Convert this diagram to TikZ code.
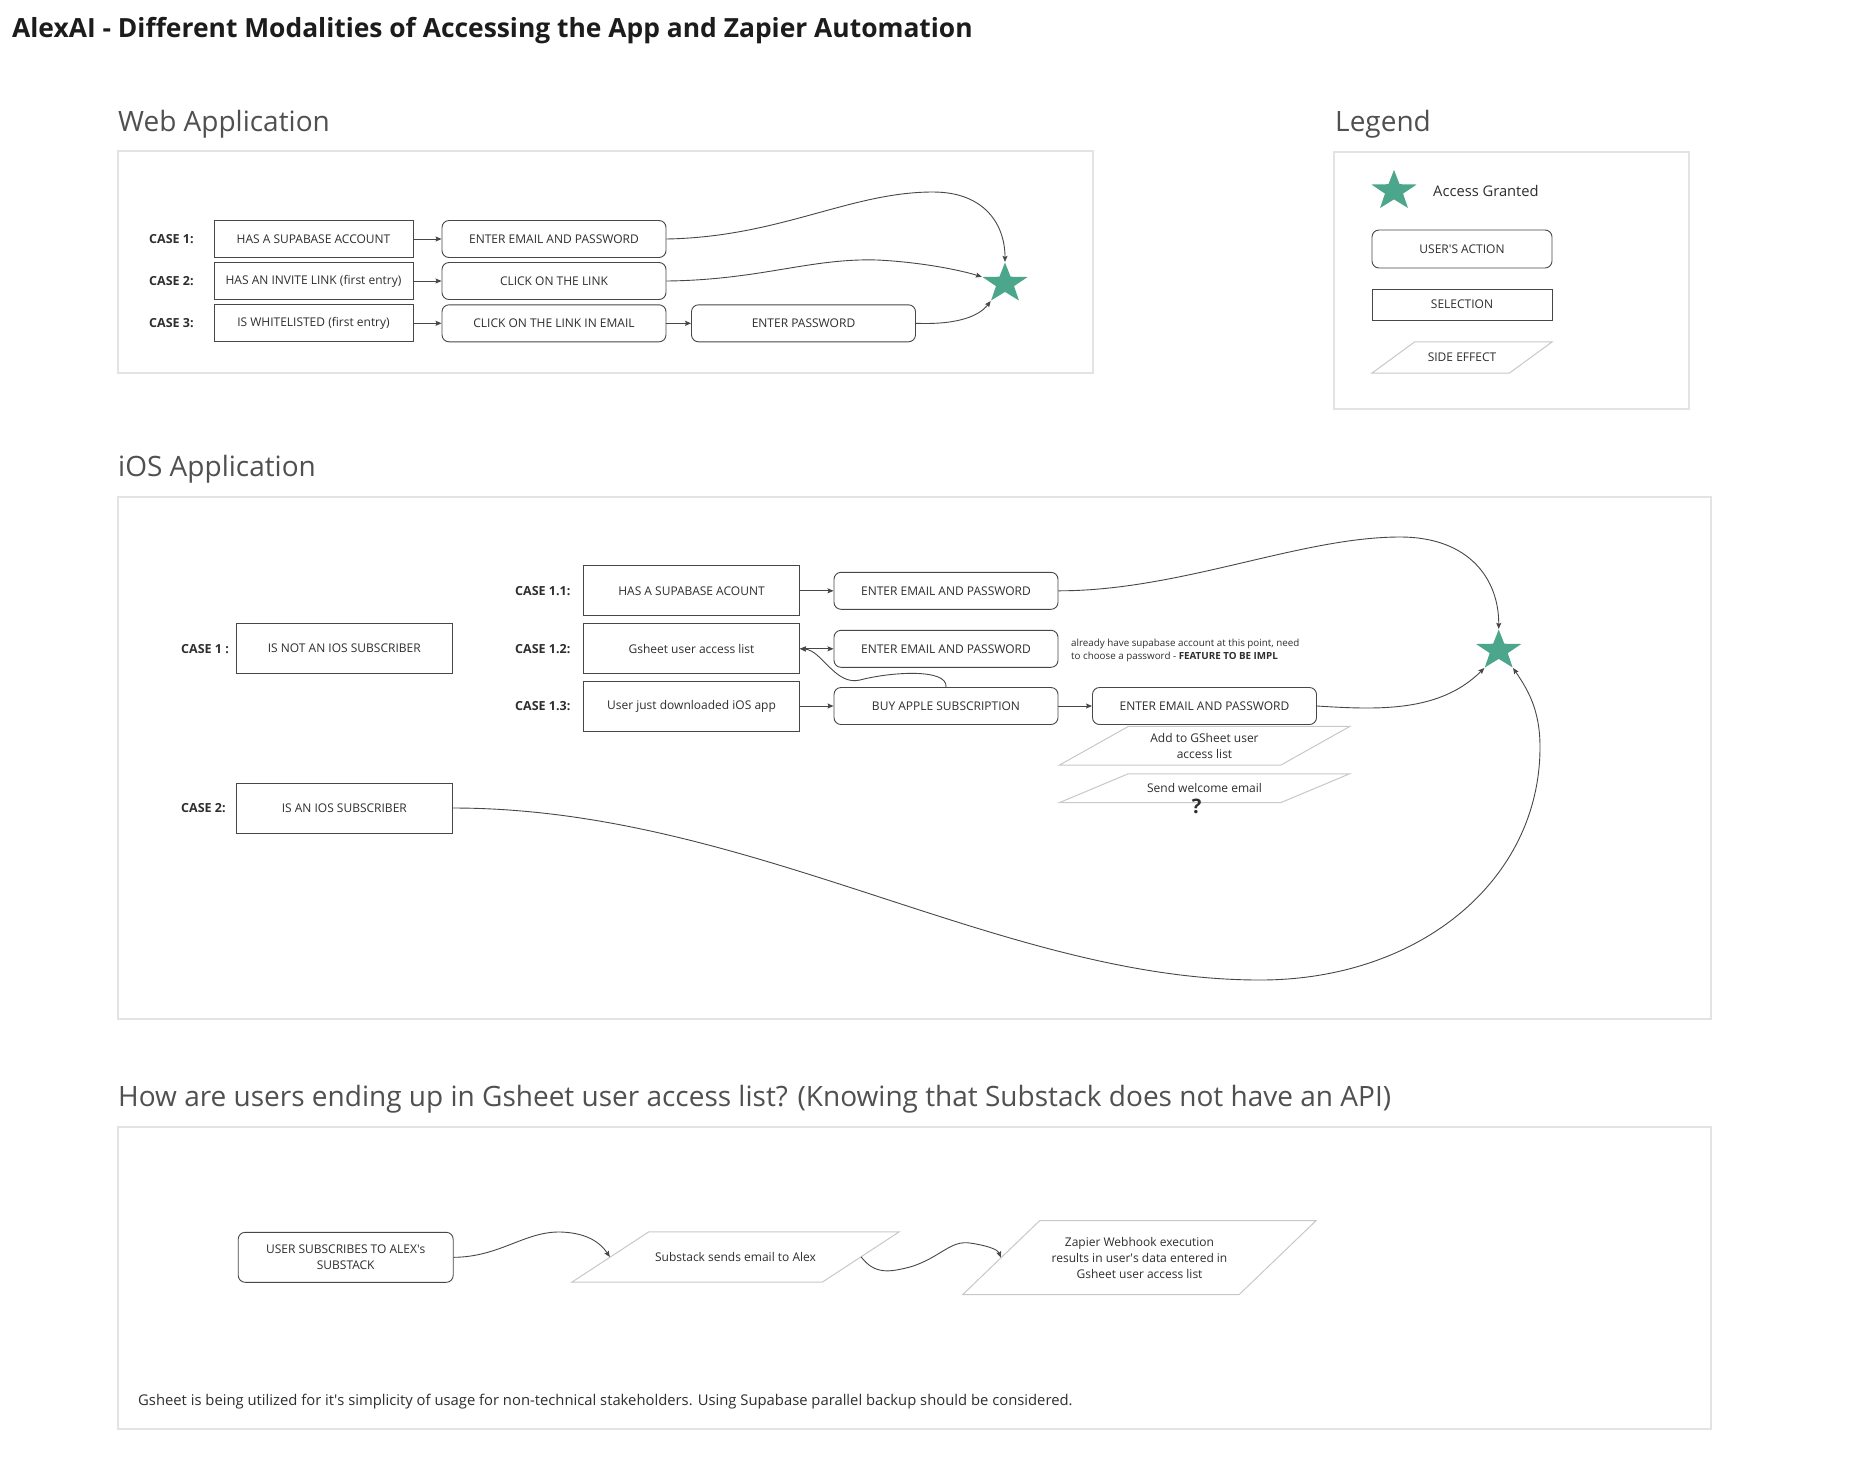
\documentclass[tikz,border=0pt]{standalone}
\usepackage{fontspec}
\setmainfont{Open Sans}
\usetikzlibrary{shapes.geometric,arrows.meta,calc}
\definecolor{lineC}{HTML}{474747}
\definecolor{frameC}{HTML}{E3E3E3}
\definecolor{sideC}{HTML}{C8C8C8}
\definecolor{textC}{HTML}{2E2E2E}
\definecolor{headC}{HTML}{505050}
\definecolor{titleC}{HTML}{1C1C1C}
\definecolor{starC}{HTML}{4CA68B}
\newcommand\myfs[2]{\fontsize{#1}{#2}\selectfont}
\newcommand\sidebox[2]{\draw[sideline] ([xshift=#2]#1.north west) -- (#1.north east) -- ([xshift=-#2]#1.south east) -- (#1.south west) -- cycle;}
\begin{document}
\begin{tikzpicture}[x=1pt,y=-1pt,
  sel/.style={draw=lineC, line width=0.9pt, inner sep=0pt, text=textC, font=\myfs{12}{15}, align=center},
  act/.style={sel, rounded corners=7pt},
  side/.style={inner sep=0pt, text=textC, font=\myfs{12}{15.6}, align=center},
  sideline/.style={draw=sideC, line width=1pt},
  frame/.style={draw=frameC, line width=2pt},
  caselbl/.style={anchor=west, inner sep=0pt, font=\myfs{12.5}{15}\bfseries, text=textC},
  head/.style={anchor=base west, inner sep=0pt, font=\myfs{28}{32}, text=headC},
  conn/.style={draw=lineC, line width=0.9pt, -{Stealth[length=6pt,width=5pt,inset=1pt]}},
  conn2/.style={draw=lineC, line width=0.9pt, {Stealth[length=6pt,width=5pt,inset=1pt]}-{Stealth[length=6pt,width=5pt,inset=1pt]}},
  accstar/.style={star, star points=5, star point ratio=2.5, minimum size=42pt, inner sep=0pt, fill=starC, draw=none, transform shape},
]
\fill[white] (0,0) rectangle (1852,1460);
\useasboundingbox (0,0) rectangle (1852,1460);

% title
\node[anchor=base west, inner sep=0pt, font=\myfs{26.4}{30}\bfseries, text=titleC] (title) at (12,37.3) {AlexAI - Different Modalities of Accessing the App and Zapier Automation};

% ---------------- Web application
\node[head] (wh) at (118,131) {Web Application};
\draw[frame] (118,151) rectangle (1093,373);
\node[caselbl] (c1) at (149,239) {CASE 1:};
\node[caselbl] (c2) at (149,281) {CASE 2:};
\node[caselbl] (c3) at (149,323.3) {CASE 3:};
\node[sel, minimum width=199pt, minimum height=37pt] (w1s) at (313.5,239) {HAS A SUPABASE ACCOUNT};
\node[sel, minimum width=199pt, minimum height=37pt] (w2s) at (313.5,281) {HAS AN INVITE LINK (first entry)};
\node[sel, minimum width=199pt, minimum height=37pt] (w3s) at (313.5,323.3) {IS WHITELISTED (first entry)};
\node[act, minimum width=224pt, minimum height=37pt] (w1a) at (554,239) {ENTER EMAIL AND PASSWORD};
\node[act, minimum width=224pt, minimum height=37pt] (w2a) at (554,281) {CLICK ON THE LINK};
\node[act, minimum width=224pt, minimum height=37pt] (w3a) at (554,323.3) {CLICK ON THE LINK IN EMAIL};
\node[act, minimum width=224pt, minimum height=37pt] (w3b) at (803.5,323.3) {ENTER PASSWORD};
\begin{scope}[shift={(1005,283.5)}, xscale=1.13]
  \node[accstar] (ws) at (0,0) {};
\end{scope}
\draw[conn] (w1s) -- (w1a);
\draw[conn] (w2s) -- (w2a);
\draw[conn] (w3s) -- (w3a);
\draw[conn] (w3a) -- (w3b);
\draw[conn] (w1a.east) .. controls (780,237) and (850,192) .. (933,192) .. controls (985,192) and (1005,225) .. (ws.outer point 1);
\draw[conn] (w2a.east) .. controls (760,280) and (810,258) .. (877,260) .. controls (920,262) and (960,270) .. (ws.outer point 2);
\draw[conn] (w3b.east) .. controls (960,325) and (980,315) .. (ws.outer point 3);

% ---------------- Legend
\node[head] (lh) at (1335,131) {Legend};
\draw[frame] (1334,152) rectangle (1689,409);
\begin{scope}[shift={(1394,191)}, xscale=1.13]
  \node[accstar] (ls) at (0,0) {};
\end{scope}
\node[anchor=west, inner sep=0pt, font=\myfs{14.7}{17}, text=textC] (lag) at (1433,190.5) {Access Granted};
\node[act, minimum width=180pt, minimum height=38pt] (lua) at (1462,249) {USER\textquotesingle S ACTION};
\node[sel, minimum width=180pt, minimum height=31pt] (lsel) at (1462,304.5) {SELECTION};
\node[side, minimum width=180pt, minimum height=31pt] (lse) at (1462,357.5) {SIDE EFFECT};
\sidebox{lse}{43pt}

% ---------------- iOS application
\node[head] (ih) at (118,476.5) {iOS Application};
\draw[frame] (118,497) rectangle (1711,1019);
\node[caselbl] (ci1) at (181,648.6) {CASE 1 :};
\node[caselbl] (ci2) at (181,808) {CASE 2:};
\node[caselbl] (c11) at (515,590.8) {CASE 1.1:};
\node[caselbl] (c12) at (515,648.8) {CASE 1.2:};
\node[caselbl] (c13) at (515,706) {CASE 1.3:};
\node[sel, minimum width=216pt, minimum height=50pt] (i1) at (344.3,648.6) {IS NOT AN IOS SUBSCRIBER};
\node[sel, minimum width=216pt, minimum height=50pt] (i2) at (344.3,808) {IS AN IOS SUBSCRIBER};
\node[sel, minimum width=216pt, minimum height=50pt] (b11) at (691.5,590.8) {HAS A SUPABASE ACOUNT};
\node[sel, minimum width=216pt, minimum height=50pt] (b12) at (691.5,648.8) {Gsheet user access list};
\node[sel, minimum width=216pt, minimum height=50pt] (b13) at (691.5,706) {User just downloaded iOS app};
\node[act, minimum width=224pt, minimum height=37pt] (e1) at (946,590.8) {ENTER EMAIL AND PASSWORD};
\node[act, minimum width=224pt, minimum height=37pt] (e2) at (946,648.8) {ENTER EMAIL AND PASSWORD};
\node[act, minimum width=224pt, minimum height=37pt] (buy) at (946,706) {BUY APPLE SUBSCRIPTION};
\node[act, minimum width=224pt, minimum height=37pt] (e3) at (1204.5,706) {ENTER EMAIL AND PASSWORD};
\node[anchor=west, inner sep=0pt, font=\myfs{9.8}{13.3}, text=textC, align=left] (note) at (1071,650.7) {already have supabase account at this point, need\\to choose a password - \textbf{FEATURE TO BE IMPL}};
\node[side, minimum width=290pt, minimum height=38.3pt] (sa) at (1204.5,745.8) {Add to GSheet user\\access list};
\sidebox{sa}{69pt}
\node[side, minimum width=290pt, minimum height=28.5pt] (sw) at (1204.5,788.2) {Send welcome email};
\sidebox{sw}{69pt}
\node[inner sep=0pt, font=\myfs{20}{20}\bfseries, text=textC] (q) at (1196.7,806) {?};
\begin{scope}[shift={(1498.7,650.5)}, xscale=1.13]
  \node[accstar] (is) at (0,0) {};
\end{scope}
\draw[conn] (b11) -- (e1);
\draw[conn2] (b12) -- (e2);
\draw[conn] (b13.east) -- (buy.west);
\draw[conn] (buy) -- (e3);
\draw[conn] (buy.north) .. controls (948,668) and (890,672) .. (860,680) .. controls (835,686) and (822,650) .. (b12.east);
\draw[conn] (e1.east) .. controls (1180,591) and (1300,537) .. (1400,537) .. controls (1470,537) and (1499,580) .. (is.outer point 1);
\draw[conn] (e3.east) .. controls (1380,710) and (1440,712) .. (is.outer point 3);
\draw[conn] (i2.east) .. controls (750,808) and (1000,980) .. (1260,980) .. controls (1420,980) and (1540,880) .. (1540,747) .. controls (1540,710) and (1528,690) .. (is.outer point 4);

% ---------------- Gsheet
\node[head] (gh) at (118,1106) {How are users ending up in Gsheet user access list? (Knowing that Substack does not have an API)};
\draw[frame] (118,1126.7) rectangle (1711,1429);
\node[act, minimum width=215pt, minimum height=50pt, font=\myfs{12}{16}] (u) at (345.7,1257.3) {USER SUBSCRIBES TO ALEX\textquotesingle s\\SUBSTACK};
\node[side, minimum width=327pt, minimum height=50pt] (p1) at (735.5,1257) {Substack sends email to Alex};
\sidebox{p1}{77pt}
\node[side, minimum width=353pt, minimum height=73.6pt, font=\myfs{12}{16}] (p2) at (1139.5,1257.5) {Zapier Webhook execution\\results in user\textquotesingle s data entered in\\Gsheet user access list};
\sidebox{p2}{77pt}
\coordinate (p1in) at ([xshift=38pt]p1.west);
\coordinate (p1out) at ([xshift=-38pt]p1.east);
\coordinate (p2in) at ([xshift=38pt]p2.west);
\draw[conn] (u.east) .. controls (500,1257) and (525,1231) .. (561,1232) .. controls (590,1233) and (602,1245) .. (p1in);
\draw[conn] (p1out) .. controls (875,1275) and (890,1272) .. (910,1267) .. controls (940,1258) and (950,1240) .. (970,1243) .. controls (990,1246) and (998,1250) .. (p2in);
\node[anchor=base west, inner sep=0pt, font=\myfs{14.8}{17}, text=textC] (foot) at (138,1405.5) {Gsheet is being utilized for it\textquotesingle s simplicity of usage for non-technical stakeholders. Using Supabase parallel backup should be considered.};
\end{tikzpicture}
\end{document}
